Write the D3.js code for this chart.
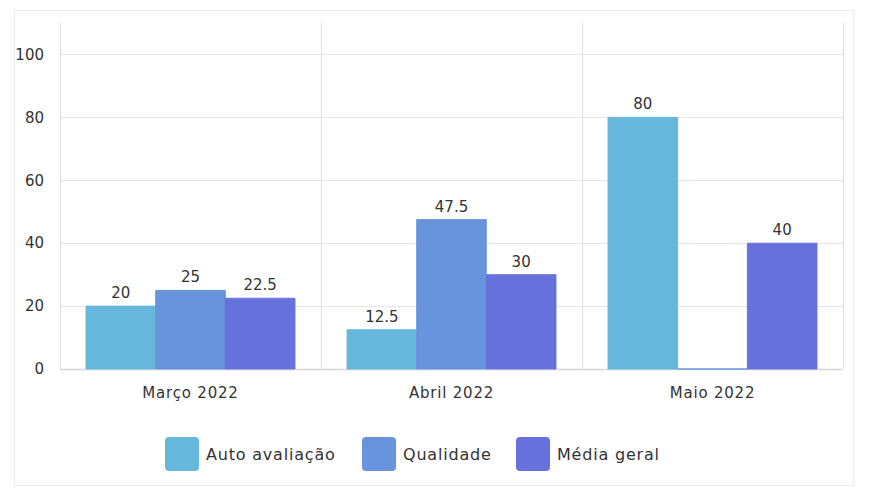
<!DOCTYPE html>
<html><head><meta charset="utf-8">
<script src="https://cdn.jsdelivr.net/npm/d3@7"></script>
<style>
html,body{margin:0;padding:0;background:#fff;}
svg text{font-family:"DejaVu Sans",sans-serif;fill:#333;}
</style></head>
<body><svg id="c" width="877" height="498"></svg>
<script>
const categories = ["Março 2022", "Abril 2022", "Maio 2022"];
const seriesNames = ["Auto avaliação", "Qualidade", "Média geral"];
const autoAvaliacao = [20, 12.5, 80];
const qualidade = [25, 47.5, 0];
const mediaGeral = [22.5, 30, 40];
const yTicks = [0, 20, 40, 60, 80, 100];
const colors = ["#67b7dc", "#6794dc", "#6771dc"];

const seriesValues = [autoAvaliacao, qualidade, mediaGeral];
const svg = d3.select("#c");
const m = {l: 60, r: 843, t: 23, b: 369};
const FONT = '"DejaVu Sans",sans-serif';

svg.append("rect").attr("x", 14.5).attr("y", 10.5).attr("width", 839).attr("height", 475)
  .attr("fill", "none").attr("stroke", "#ececec");

const x = d3.scaleBand().domain(categories).range([m.l, m.r]);
const inner = d3.scaleBand().domain(seriesNames).range([26, x.bandwidth() - 26]);
const y = d3.scaleLinear().domain([0, 110]).range([m.b, m.t]);

const g = svg.append("g");
g.selectAll(".hg").data(yTicks).join("line")
  .attr("x1", m.l).attr("x2", m.r)
  .attr("y1", d => Math.round(y(d)) + 0.5).attr("y2", d => Math.round(y(d)) + 0.5)
  .attr("stroke", d => d === 0 ? "#d6d6d6" : "#e6e6e6").attr("stroke-width", d => d === 0 ? 1.5 : 1.2);
const vx = categories.map(c => x(c)).concat([m.r]);
g.selectAll(".vg").data(vx).join("line")
  .attr("x1", d => Math.round(d) + 0.5).attr("x2", d => Math.round(d) + 0.5)
  .attr("y1", m.t).attr("y2", m.b)
  .attr("stroke", "#e2e2e2").attr("stroke-width", 1.2);

const yAxis = d3.axisLeft(y).tickValues(yTicks).tickSize(0).tickPadding(16);
const ya = svg.append("g").attr("transform", `translate(${m.l},0)`).call(yAxis);
ya.select(".domain").remove();
ya.selectAll("text").attr("font-size", 15).style("font-family", FONT).attr("fill", "#333");

const xAxis = d3.axisBottom(x).tickSize(0).tickPadding(18);
const xa = svg.append("g").attr("transform", `translate(0,${m.b})`).call(xAxis);
xa.select(".domain").remove();
xa.selectAll("text").attr("font-size", 15).style("font-family", FONT).attr("fill", "#333")
  .attr("letter-spacing", 0.8);

const data = [];
categories.forEach((c, i) => seriesNames.forEach((s, j) => data.push({c, s, j, v: seriesValues[j][i]})));
const bars = svg.append("g");
bars.selectAll("path").data(data).join("path")
  .attr("d", d => {
    const x0 = x(d.c) + inner(d.s), w = inner.bandwidth();
    return `M${x0},${y(0)}H${x0 + w}V${y(d.v)}H${x0}Z`;
  })
  .attr("fill", d => colors[d.j])
  .attr("stroke", d => colors[d.j]).attr("stroke-opacity", 0.9).attr("stroke-width", 1);

bars.selectAll("text").data(data.filter(d => d.v > 0)).join("text")
  .attr("x", d => x(d.c) + inner(d.s) + inner.bandwidth() / 2)
  .attr("y", d => y(d.v) - 8)
  .attr("text-anchor", "middle").attr("font-size", 15)
  .text(d => d.v);

const legendX = [165, 362, 516];
const lg = svg.append("g");
seriesNames.forEach((s, j) => {
  lg.append("rect").attr("x", legendX[j]).attr("y", 437).attr("width", 34).attr("height", 34)
    .attr("rx", 4).attr("fill", colors[j]);
  lg.append("text").attr("x", legendX[j] + 41).attr("y", 454).attr("dy", "0.35em")
    .attr("font-size", 16).attr("letter-spacing", 0.8).text(s);
});
</script></body></html>
